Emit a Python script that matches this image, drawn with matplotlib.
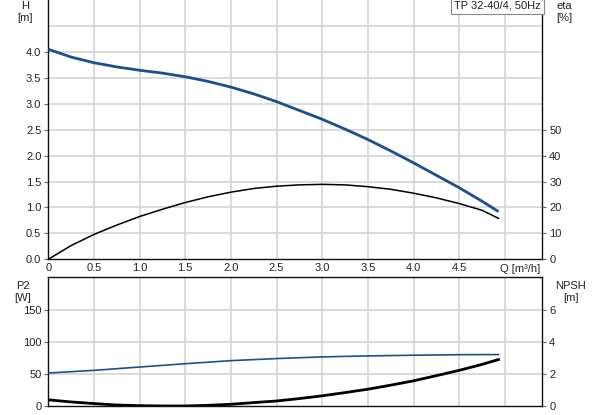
import matplotlib
matplotlib.use("Agg")
import matplotlib.pyplot as plt
import numpy as np

plt.rcParams['font.family'] = ['Liberation Sans', 'DejaVu Sans']

# ---- data ----
q_h = [0.0, 0.25, 0.5, 0.75, 1.0, 1.25, 1.5, 1.75, 2.0, 2.25, 2.5, 2.75, 3.0,
       3.25, 3.5, 3.75, 4.0, 4.25, 4.5, 4.75, 4.93]
head = [4.05, 3.90, 3.79, 3.71, 3.645, 3.59, 3.52, 3.43, 3.32, 3.19, 3.04, 2.87,
        2.70, 2.51, 2.31, 2.09, 1.86, 1.62, 1.38, 1.12, 0.92]
eta = [0.0, 5.3, 9.6, 13.2, 16.5, 19.3, 21.9, 24.1, 25.9, 27.3, 28.2, 28.7, 28.9,
       28.7, 28.0, 27.0, 25.5, 23.7, 21.5, 18.9, 15.8]

q_p = [0.0, 0.5, 1.0, 1.5, 2.0, 2.5, 3.0, 3.5, 4.0, 4.5, 4.93]
p2 = [51.6, 55.7, 60.9, 66.0, 70.8, 74.0, 76.6, 78.1, 79.2, 80.0, 80.2]

q_n = [0.0, 0.25, 0.5, 0.75, 1.0, 1.25, 1.5, 1.75, 2.0, 2.25, 2.5, 2.75, 3.0,
       3.25, 3.5, 3.75, 4.0, 4.25, 4.5, 4.75, 4.93]
npsh = [0.40, 0.27, 0.17, 0.08, 0.04, 0.02, 0.02, 0.06, 0.125, 0.23, 0.33, 0.48,
        0.65, 0.85, 1.06, 1.31, 1.58, 1.90, 2.23, 2.60, 2.90]

x_ticks = [0, 0.5, 1.0, 1.5, 2.0, 2.5, 3.0, 3.5, 4.0, 4.5]
x_tick_labels = ["0", "0.5", "1.0", "1.5", "2.0", "2.5", "3.0", "3.5", "4.0", "4.5"]
h_ticks = [0.0, 0.5, 1.0, 1.5, 2.0, 2.5, 3.0, 3.5, 4.0]
eta_ticks = [0, 10, 20, 30, 40, 50]
p2_ticks = [0, 50, 100, 150]
npsh_ticks = [0, 2, 4, 6]
title = "TP 32-40/4, 50Hz"

BLUE = "#1c4f8c"
GRID = "#d4d4d4"
TXT = "#222222"
FS = 8

W, H = 593, 415
fig = plt.figure(figsize=(W / 100, H / 100), dpi=100)

L = 48.3 / W
AW = 494 / W
ax1 = fig.add_axes([L, (H - 259.3) / H, AW, 259.3 / H])
ax2 = fig.add_axes([L, (H - 406.3) / H, AW, (406.3 - 277.3) / H])

XMAX = 5.41


def style(ax):
    ax.set_xlim(0, XMAX)
    ax.set_facecolor("white")
    for x in np.arange(0.5, 5.01, 0.5):
        ax.axvline(x, color=GRID, lw=1.2, zorder=0)
    for s in ax.spines.values():
        s.set_color("#111111")
        s.set_linewidth(1.0)
    ax.tick_params(axis='y', direction='out', length=3, width=0.8,
                   color="#666666", labelsize=FS, labelcolor=TXT, pad=2)


# ---- top panel ----
style(ax1)
ax1.set_ylim(0, 5.0)
for y in np.arange(0.5, 4.51, 0.5):
    ax1.axhline(y, color=GRID, lw=1.2, zorder=0)
ax1.spines['top'].set_visible(False)
ax1.set_yticks(h_ticks)
ax1.set_yticklabels([f"{v:.1f}" for v in h_ticks])
ax1.set_xticks(x_ticks)
ax1.set_xticklabels(x_tick_labels)
ax1.tick_params(axis='x', length=0, labelsize=FS, labelcolor=TXT, pad=3)
ax1.plot(q_h, head, color=BLUE, lw=2.0, solid_capstyle='butt', zorder=3)

ax1r = ax1.twinx()
ax1r.set_ylim(0, 100)
ax1r.set_yticks(eta_ticks)
ax1r.tick_params(axis='y', direction='out', length=3, width=0.8,
                 color="#666666", labelsize=FS, labelcolor=TXT, pad=2)
for s in ax1r.spines.values():
    s.set_visible(False)
ax1r.plot(q_h, eta, color="black", lw=1.1, zorder=3)

fig.text(25 / W, 1 - 12 / H, "H\n[m]", ha='center', va='center',
         fontsize=FS, color=TXT, linespacing=1.3)
fig.text(564 / W, 1 - 12 / H, "eta\n[%]", ha='center', va='center',
         fontsize=FS, color=TXT, linespacing=1.3)
fig.text(520 / W, 1 - 269 / H, "Q [m³/h]", ha='center', va='center',
         fontsize=FS, color=TXT)

ax1.text(0.9975, 0.997, title, transform=ax1.transAxes, ha='right', va='top',
         fontsize=FS, color=TXT, zorder=5,
         bbox=dict(boxstyle='square,pad=0.3', fc='white', ec='#888888', lw=0.8))

# ---- bottom panel ----
style(ax2)
ax2.set_ylim(0, 200)
for y in [50, 100, 150]:
    ax2.axhline(y, color=GRID, lw=1.2, zorder=0)
ax2.set_yticks(p2_ticks)
ax2.set_xticks([])
ax2.plot(q_p, p2, color=BLUE, lw=1.2, zorder=3)

ax2r = ax2.twinx()
ax2r.set_ylim(0, 8)
ax2r.set_yticks(npsh_ticks)
ax2r.tick_params(axis='y', direction='out', length=3, width=0.8,
                 color="#666666", labelsize=FS, labelcolor=TXT, pad=2)
for s in ax2r.spines.values():
    s.set_visible(False)
ax2r.plot(q_n, npsh, color="black", lw=2.0, zorder=3)

fig.text(23 / W, 1 - 292 / H, "P2\n[W]", ha='center', va='center',
         fontsize=FS, color=TXT, linespacing=1.3)
fig.text(571 / W, 1 - 292 / H, "NPSH\n[m]", ha='center', va='center',
         fontsize=FS, color=TXT, linespacing=1.3)

fig.savefig("out.png", dpi=100, facecolor="white")
